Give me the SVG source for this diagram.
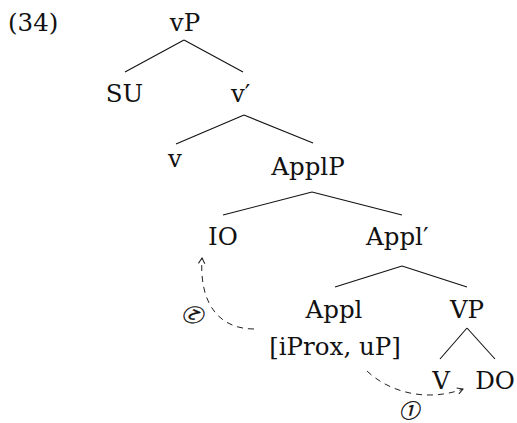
<svg xmlns="http://www.w3.org/2000/svg" width="517" height="423" viewBox="0 0 517 423">
<style>
text{font-family:"DejaVu Serif","Liberation Serif",serif;font-size:24.5px;fill:#111;}
.m{text-anchor:middle;}
.br{stroke:#111;stroke-width:1.1;fill:none;}
.mv{stroke:#222;stroke-width:1;fill:none;stroke-dasharray:6 5;}
.num{font-family:"Noto Sans CJK JP","Noto Sans CJK SC",sans-serif;font-size:20px;font-style:italic;stroke:#111;stroke-width:0.4;}
</style>
<defs>
<marker id="ah" viewBox="0 0 10 10" refX="9" refY="5" markerWidth="8" markerHeight="8" markerUnits="userSpaceOnUse" orient="auto">
<path d="M2,1 L9,5 L2,9" fill="none" stroke="#222" stroke-width="1.3"/>
</marker>
</defs>
<rect width="517" height="423" fill="#fff"/>
<text x="8" y="31">(34)</text>
<g id="connectors">
<line class="br" x1="184" y1="40" x2="125" y2="72"/>
<line class="br" x1="184" y1="40" x2="243" y2="72"/>
<line class="br" x1="244" y1="115" x2="176" y2="144"/>
<line class="br" x1="244" y1="115" x2="313" y2="143"/>
<line class="br" x1="312" y1="192" x2="223" y2="215"/>
<line class="br" x1="312" y1="192" x2="402" y2="215"/>
<line class="br" x1="402" y1="266" x2="335" y2="287"/>
<line class="br" x1="402" y1="266" x2="467" y2="287"/>
<line class="br" x1="467" y1="328" x2="440" y2="359"/>
<line class="br" x1="467" y1="328" x2="495" y2="359"/>
<path class="mv" d="M367,371 C390,393 428,402 463,389" marker-end="url(#ah)"/>
<path class="mv" d="M254,329 C220,329 199,305 202,258" marker-end="url(#ah)"/>
</g>
<g id="vP"><text class="m" x="185" y="31">vP</text></g>
<g id="SU"><text class="m" x="124.5" y="102">SU</text></g>
<g id="vbar"><text x="231" y="102">v′</text></g>
<g id="v"><text class="m" x="175" y="167">v</text></g>
<g id="ApplP"><text class="m" x="308" y="175">ApplP</text></g>
<g id="IO"><text class="m" x="223" y="245">IO</text></g>
<g id="Applbar"><text x="366" y="245">Appl′</text></g>
<g id="Appl"><text class="m" x="334" y="318">Appl</text><text class="m" x="335" y="355">[iProx, uP]</text></g>
<g id="VP"><text class="m" x="467" y="318">VP</text></g>
<g id="V"><text class="m" x="441" y="389">V</text></g>
<g id="DO"><text class="m" x="495" y="389">DO</text></g>
<g id="step1"><text class="num m" x="409" y="418">①</text></g>
<g id="step2"><text class="num m" x="0" y="7" transform="translate(196,315) rotate(205)">②</text></g>
</svg>
